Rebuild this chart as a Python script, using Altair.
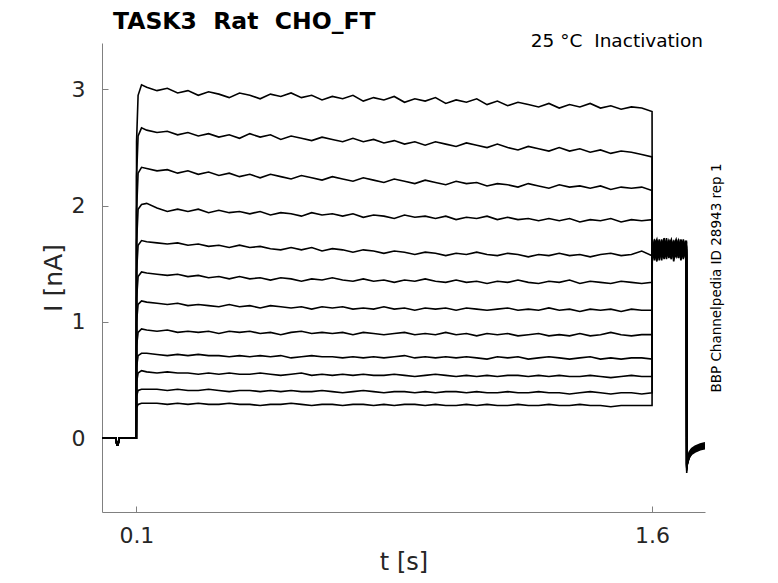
import altair as alt
import pandas as pd

# ---------------- data ----------------
TITLE = "TASK3\u00a0\u00a0Rat\u00a0\u00a0CHO_FT"
SUBTITLE = "25 °C\u00a0\u00a0Inactivation"
SIDE = "BBP Channelpedia ID 28943 rep 1"
X_TICKS = [0.1, 1.6]
Y_TICKS = [0, 1, 2, 3]
X_DOMAIN = [0.0, 1.754]
Y_DOMAIN = [-0.636, 3.40]

# holding period (shared by all sweeps)
T_PRE = [0.002, 0.040, 0.0435, 0.0465, 0.050, 0.0998]
I_PRE = [0.0, 0.0, -0.06, -0.06, 0.0, 0.0]

# rising edge of the pulse
T_RISE = [0.1005, 0.105, 0.115]
RISE = [
    [2.55, 2.95, 3.04], [2.25, 2.60, 2.67], [1.95, 2.28, 2.33], [1.68, 1.97, 2.01],
    [1.43, 1.66, 1.70], [1.20, 1.39, 1.43], [1.00, 1.15, 1.18], [0.79, 0.91, 0.94],
    [0.61, 0.71, 0.73], [0.48, 0.56, 0.58], [0.36, 0.41, 0.42], [0.26, 0.29, 0.30],
]

# plateau during the pulse
T_PULSE = [0.13, 0.16, 0.19, 0.22, 0.25, 0.28, 0.31, 0.34, 0.37, 0.40,
           0.43, 0.46, 0.49, 0.52, 0.55, 0.58, 0.61, 0.64, 0.67, 0.70,
           0.73, 0.76, 0.79, 0.82, 0.85, 0.88, 0.91, 0.94, 0.97, 1.00,
           1.03, 1.06, 1.09, 1.12, 1.15, 1.18, 1.21, 1.24, 1.27, 1.30,
           1.33, 1.36, 1.39, 1.42, 1.45, 1.48, 1.51, 1.54, 1.57, 1.60]
PULSE = [
    [3.02, 2.99, 3.01, 2.97, 2.99, 2.95, 2.98, 2.96, 2.93, 2.97,
     2.95, 2.92, 2.96, 2.94, 2.97, 2.93, 2.95, 2.91, 2.94, 2.92,
     2.95, 2.90, 2.93, 2.91, 2.94, 2.89, 2.92, 2.90, 2.93, 2.88,
     2.91, 2.89, 2.92, 2.87, 2.90, 2.86, 2.89, 2.87, 2.85, 2.88,
     2.84, 2.87, 2.85, 2.88, 2.84, 2.86, 2.83, 2.85, 2.84, 2.81],
    [2.65, 2.63, 2.64, 2.61, 2.63, 2.60, 2.62, 2.59, 2.61, 2.58,
     2.62, 2.59, 2.61, 2.57, 2.60, 2.58, 2.56, 2.59, 2.57, 2.55,
     2.58, 2.55, 2.57, 2.54, 2.56, 2.53, 2.55, 2.52, 2.55, 2.53,
     2.51, 2.54, 2.52, 2.50, 2.53, 2.50, 2.48, 2.51, 2.49, 2.47,
     2.50, 2.47, 2.49, 2.46, 2.48, 2.45, 2.47, 2.46, 2.44, 2.42],
    [2.32, 2.30, 2.31, 2.28, 2.30, 2.27, 2.29, 2.26, 2.28, 2.25,
     2.27, 2.24, 2.27, 2.25, 2.23, 2.26, 2.24, 2.22, 2.25, 2.23,
     2.21, 2.24, 2.22, 2.20, 2.23, 2.21, 2.19, 2.22, 2.20, 2.18,
     2.21, 2.19, 2.20, 2.17, 2.19, 2.18, 2.16, 2.19, 2.17, 2.15,
     2.18, 2.16, 2.17, 2.15, 2.17, 2.14, 2.16, 2.15, 2.16, 2.13],
    [2.02, 1.98, 1.95, 1.97, 1.95, 1.97, 1.94, 1.96, 1.94, 1.95,
     1.93, 1.95, 1.92, 1.94, 1.93, 1.91, 1.94, 1.92, 1.93, 1.91,
     1.93, 1.90, 1.92, 1.91, 1.89, 1.92, 1.90, 1.91, 1.89, 1.91,
     1.88, 1.90, 1.89, 1.91, 1.88, 1.90, 1.88, 1.89, 1.87, 1.89,
     1.87, 1.89, 1.86, 1.88, 1.87, 1.89, 1.86, 1.88, 1.87, 1.88],
    [1.69, 1.68, 1.67, 1.68, 1.66, 1.67, 1.65, 1.66, 1.64, 1.66,
     1.64, 1.65, 1.63, 1.62, 1.64, 1.62, 1.64, 1.61, 1.63, 1.62,
     1.60, 1.62, 1.61, 1.59, 1.61, 1.60, 1.58, 1.60, 1.59, 1.57,
     1.59, 1.58, 1.60, 1.58, 1.57, 1.59, 1.58, 1.56, 1.58, 1.57,
     1.59, 1.57, 1.58, 1.56, 1.58, 1.59, 1.57, 1.58, 1.61, 1.57],
    [1.42, 1.41, 1.40, 1.41, 1.39, 1.40, 1.38, 1.39, 1.37, 1.39,
     1.37, 1.38, 1.36, 1.38, 1.37, 1.35, 1.37, 1.36, 1.38, 1.36,
     1.35, 1.37, 1.35, 1.36, 1.34, 1.36, 1.35, 1.37, 1.35, 1.34,
     1.36, 1.34, 1.35, 1.33, 1.35, 1.34, 1.36, 1.34, 1.33, 1.35,
     1.34, 1.36, 1.33, 1.35, 1.34, 1.33, 1.35, 1.34, 1.33, 1.34],
    [1.17, 1.16, 1.15, 1.16, 1.14, 1.15, 1.14, 1.13, 1.15, 1.13,
     1.14, 1.12, 1.14, 1.13, 1.12, 1.13, 1.11, 1.13, 1.12, 1.13,
     1.11, 1.12, 1.11, 1.13, 1.11, 1.12, 1.10, 1.12, 1.11, 1.12,
     1.10, 1.12, 1.11, 1.10, 1.11, 1.12, 1.10, 1.11, 1.10, 1.12,
     1.10, 1.11, 1.09, 1.11, 1.10, 1.11, 1.09, 1.11, 1.10, 1.10],
    [0.93, 0.92, 0.93, 0.91, 0.92, 0.91, 0.92, 0.90, 0.92, 0.91,
     0.92, 0.90, 0.91, 0.89, 0.91, 0.92, 0.90, 0.91, 0.90, 0.91,
     0.89, 0.91, 0.90, 0.89, 0.90, 0.91, 0.89, 0.90, 0.89, 0.91,
     0.89, 0.90, 0.88, 0.90, 0.89, 0.90, 0.88, 0.89, 0.90, 0.88,
     0.89, 0.88, 0.90, 0.88, 0.89, 0.91, 0.89, 0.88, 0.89, 0.89],
    [0.73, 0.72, 0.71, 0.72, 0.71, 0.72, 0.71, 0.71, 0.70, 0.71,
     0.70, 0.71, 0.70, 0.71, 0.69, 0.70, 0.71, 0.70, 0.70, 0.69,
     0.70, 0.69, 0.70, 0.69, 0.70, 0.71, 0.69, 0.70, 0.69, 0.70,
     0.69, 0.70, 0.69, 0.68, 0.70, 0.69, 0.70, 0.68, 0.69, 0.70,
     0.69, 0.68, 0.69, 0.70, 0.68, 0.69, 0.68, 0.69, 0.69, 0.68],
    [0.57, 0.56, 0.57, 0.56, 0.56, 0.55, 0.56, 0.55, 0.56, 0.55,
     0.55, 0.56, 0.55, 0.54, 0.55, 0.56, 0.54, 0.55, 0.54, 0.55,
     0.54, 0.55, 0.54, 0.54, 0.55, 0.54, 0.53, 0.54, 0.55, 0.54,
     0.53, 0.54, 0.53, 0.54, 0.53, 0.54, 0.54, 0.53, 0.54, 0.53,
     0.54, 0.53, 0.53, 0.54, 0.53, 0.52, 0.53, 0.54, 0.53, 0.53],
    [0.42, 0.42, 0.41, 0.42, 0.41, 0.41, 0.42, 0.41, 0.40, 0.41,
     0.41, 0.40, 0.41, 0.40, 0.41, 0.40, 0.40, 0.41, 0.40, 0.39,
     0.40, 0.41, 0.40, 0.39, 0.40, 0.40, 0.39, 0.40, 0.39, 0.40,
     0.40, 0.39, 0.40, 0.39, 0.39, 0.40, 0.39, 0.39, 0.40, 0.39,
     0.39, 0.38, 0.39, 0.40, 0.39, 0.38, 0.39, 0.39, 0.38, 0.39],
    [0.30, 0.30, 0.29, 0.30, 0.29, 0.30, 0.29, 0.29, 0.30, 0.29,
     0.29, 0.28, 0.29, 0.29, 0.30, 0.29, 0.28, 0.29, 0.29, 0.28,
     0.29, 0.29, 0.28, 0.29, 0.28, 0.29, 0.29, 0.28, 0.29, 0.28,
     0.28, 0.29, 0.28, 0.29, 0.28, 0.28, 0.29, 0.28, 0.28, 0.29,
     0.28, 0.28, 0.29, 0.28, 0.28, 0.27, 0.28, 0.28, 0.28, 0.28],
]

# post-pulse step (1.6 - 1.7 s)
T_BAND = [1.6005, 1.607, 1.614, 1.621, 1.628, 1.635, 1.642, 1.649,
          1.656, 1.663, 1.670, 1.677, 1.684, 1.691, 1.697, 1.700]
BAND = [
    [1.66, 1.58, 1.69, 1.55, 1.67, 1.60, 1.70, 1.62, 1.57, 1.68, 1.61, 1.71, 1.56, 1.65, 1.59, 1.62],
    [1.54, 1.68, 1.60, 1.71, 1.57, 1.66, 1.56, 1.68, 1.63, 1.55, 1.70, 1.58, 1.67, 1.60, 1.69, 1.64],
    [1.70, 1.60, 1.52, 1.66, 1.62, 1.72, 1.58, 1.64, 1.69, 1.57, 1.63, 1.55, 1.70, 1.61, 1.56, 1.66],
    [1.58, 1.71, 1.63, 1.57, 1.69, 1.55, 1.67, 1.60, 1.54, 1.66, 1.71, 1.62, 1.58, 1.68, 1.63, 1.60],
    [1.62, 1.55, 1.70, 1.64, 1.53, 1.68, 1.61, 1.70, 1.65, 1.59, 1.56, 1.69, 1.63, 1.54, 1.70, 1.61],
    [1.52, 1.64, 1.58, 1.70, 1.60, 1.63, 1.54, 1.66, 1.71, 1.61, 1.67, 1.57, 1.62, 1.71, 1.58, 1.65],
    [1.68, 1.62, 1.55, 1.62, 1.71, 1.57, 1.69, 1.56, 1.62, 1.70, 1.58, 1.64, 1.53, 1.66, 1.62, 1.57],
    [1.60, 1.70, 1.66, 1.53, 1.64, 1.70, 1.60, 1.65, 1.58, 1.63, 1.69, 1.55, 1.67, 1.59, 1.65, 1.69],
    [1.64, 1.53, 1.62, 1.68, 1.56, 1.61, 1.72, 1.58, 1.66, 1.52, 1.64, 1.70, 1.60, 1.68, 1.55, 1.63],
    [1.56, 1.66, 1.71, 1.60, 1.66, 1.54, 1.63, 1.69, 1.60, 1.67, 1.62, 1.57, 1.71, 1.63, 1.67, 1.58],
    [1.69, 1.59, 1.57, 1.67, 1.59, 1.67, 1.57, 1.62, 1.70, 1.56, 1.68, 1.61, 1.65, 1.57, 1.62, 1.70],
    [1.55, 1.65, 1.68, 1.58, 1.70, 1.62, 1.66, 1.55, 1.64, 1.69, 1.59, 1.66, 1.56, 1.69, 1.60, 1.56],
]

# return to holding (tail)
T_TAIL = [1.7008, 1.703, 1.708, 1.715, 1.725, 1.74, 1.754]
TAIL = [
    [-0.30, -0.19, -0.12, -0.09, -0.07, -0.05, -0.04],
    [-0.28, -0.20, -0.14, -0.10, -0.08, -0.06, -0.05],
    [-0.26, -0.18, -0.13, -0.10, -0.08, -0.06, -0.05],
    [-0.27, -0.21, -0.15, -0.11, -0.09, -0.07, -0.06],
    [-0.25, -0.19, -0.14, -0.10, -0.08, -0.07, -0.06],
    [-0.26, -0.22, -0.16, -0.12, -0.10, -0.08, -0.07],
    [-0.24, -0.20, -0.15, -0.11, -0.09, -0.08, -0.07],
    [-0.25, -0.21, -0.16, -0.13, -0.11, -0.09, -0.08],
    [-0.23, -0.19, -0.15, -0.12, -0.10, -0.08, -0.07],
    [-0.24, -0.22, -0.17, -0.13, -0.11, -0.09, -0.08],
    [-0.22, -0.20, -0.16, -0.12, -0.10, -0.09, -0.08],
    [-0.23, -0.21, -0.17, -0.14, -0.12, -0.10, -0.09],
]

# ---------------- build table ----------------
rows = []
for k in range(len(PULSE)):
    ts = T_PRE + T_RISE + T_PULSE + T_BAND + T_TAIL
    vs = I_PRE + RISE[k] + PULSE[k] + BAND[k] + TAIL[k]
    assert len(ts) == len(vs), (k, len(ts), len(vs))
    for j, (t, v) in enumerate(zip(ts, vs)):
        rows.append({"sweep": k, "idx": j, "t": t, "i": v})
df = pd.DataFrame(rows)

FONT = "DejaVu Sans"
TXT = "#262626"
AX = "#808080"
W, H = 603, 469

xs = alt.Scale(domain=X_DOMAIN, nice=False, zero=False)
ys = alt.Scale(domain=Y_DOMAIN, nice=False, zero=False)

lines = alt.Chart(df).mark_line(color="black", strokeWidth=1.6, clip=True).encode(
    x=alt.X("t:Q", scale=xs, axis=alt.Axis(
        values=X_TICKS, format=".1f", title="t [s]", ticks=False, tickSize=0,
        labelPadding=13, titlePadding=4, grid=False,
        labelFont=FONT, labelFontSize=22, labelColor=TXT,
        titleFont=FONT, titleFontSize=24, titleFontWeight="normal", titleColor=TXT,
        domainColor=AX, domainWidth=1)),
    y=alt.Y("i:Q", scale=ys, axis=alt.Axis(
        values=Y_TICKS, format="d", title="I [nA]", ticks=False, tickSize=0,
        labelPadding=17, titlePadding=5, grid=False,
        labelFont=FONT, labelFontSize=22, labelColor=TXT,
        titleFont=FONT, titleFontSize=25, titleFontWeight="normal", titleColor=TXT,
        domainColor=AX, domainWidth=1)),
    detail="sweep:N",
    order="idx:Q",
)

# inward ticks: an axis pulled inside the plot by the tick length
tick_layer = alt.Chart(df).mark_line(strokeOpacity=0).encode(
    x=alt.X("t:Q", scale=xs, axis=alt.Axis(
        values=X_TICKS, orient="bottom", offset=-6, tickSize=6, tickColor=AX,
        labels=False, domain=False, title=None, grid=False)),
    y=alt.Y("i:Q", scale=ys, axis=alt.Axis(
        values=Y_TICKS, orient="left", offset=-6, tickSize=6, tickColor=AX,
        labels=False, domain=False, title=None, grid=False)),
    detail="sweep:N",
    order="idx:Q",
)

anno = pd.DataFrame({"title": [TITLE], "sub": [SUBTITLE], "side": [SIDE]})
title_mark = alt.Chart(anno).mark_text(
    font=FONT, fontSize=23.5, fontWeight="bold", color="black",
    align="left", baseline="alphabetic").encode(
    x=alt.value(11), y=alt.value(-14), text="title:N")
sub_mark = alt.Chart(anno).mark_text(
    font=FONT, fontSize=18.5, color="black",
    align="right", baseline="alphabetic").encode(
    x=alt.value(601), y=alt.value(4), text="sub:N")
side_mark = alt.Chart(anno).mark_text(
    font=FONT, fontSize=13.5, color="black", angle=270,
    align="center", baseline="middle").encode(
    x=alt.value(615), y=alt.value(235), text="side:N")

chart = alt.layer(lines, tick_layer, title_mark, sub_mark, side_mark).resolve_axis(
    x="independent", y="independent"
).properties(
    width=W, height=H,
    autosize=alt.AutoSizeParams(type="none"),
    padding={"left": 94, "top": 35, "right": 65, "bottom": 63},
).configure(background="white").configure_view(stroke=None)

chart.save("out.html", embed_options={"renderer": "svg", "actions": False})
